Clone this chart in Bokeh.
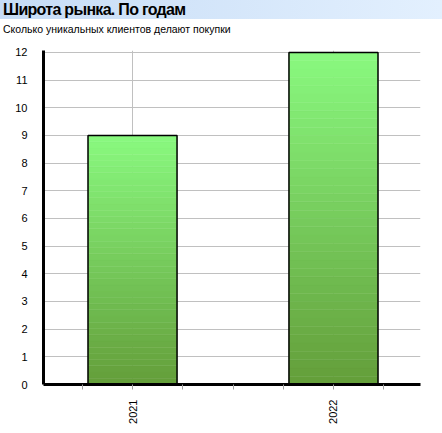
import numpy as np
from bokeh.plotting import figure
from bokeh.models import Range1d, FixedTicker, ColumnDataSource, Div
from bokeh.layouts import column
from bokeh.embed import file_html
from bokeh.resources import INLINE

title_text = "Широта рынка. По годам"
subtitle_text = "Сколько уникальных клиентов делают покупки"
years = [2021, 2022]
clients = [9, 12]
y_ticks = list(range(0, 13))

W, H = 442, 433
HEAD = 40
FL, FR, FT, FB = 43, 420, 50, 384  # frame edges in page pixels

header = Div(
    text=(
        '<div style="width:442px;box-sizing:border-box;height:19px;line-height:19px;padding-left:3px;'
        'background:linear-gradient(to right,#C6DCF6,#E3F0FE);'
        "font-family:'Liberation Sans';font-weight:bold;font-size:16px;letter-spacing:-0.7px;"
        'color:black;white-space:nowrap">' + title_text + '</div>'
        '<div style="width:442px;box-sizing:border-box;padding-left:3px;margin-top:3px;'
        "font-family:'Liberation Sans';font-size:10.5px;"
        'color:black;white-space:nowrap">' + subtitle_text + '</div>'
    ),
    width=W, height=HEAD, margin=(0, 0, 0, 0),
)

p = figure(frame_width=FR - FL, frame_height=FB - FT, output_backend="svg",
           toolbar_location=None,
           x_range=Range1d(2020.557, 2022.433), y_range=Range1d(0, 12.07),
           min_border_left=FL, min_border_right=W - FR, min_border_top=FT - HEAD,
           min_border_bottom=H - FB, title=None, margin=(0, 0, 0, 0))
p.outline_line_color = None
p.background_fill_color = "white"
p.border_fill_color = "white"

# gradient bars: slices of each bar
N = 40
c_bot = np.array([0x64, 0x9E, 0x3A])
c_top = np.array([0x8A, 0xFA, 0x80])
xs, bots, tops, cols = [], [], [], []
for yr, v in zip(years, clients):
    for i in range(N):
        t = (i + 0.5) / N
        c = (c_bot + (c_top - c_bot) * t).astype(int)
        xs.append(yr)
        bots.append(v * i / N)
        tops.append(v * (i + 1) / N)
        cols.append("#%02x%02x%02x" % tuple(c))
src = ColumnDataSource(dict(x=xs, bottom=bots, top=tops, color=cols))
bw = 0.443
p.vbar(x="x", bottom="bottom", top="top", width=bw, source=src,
       fill_color="color", line_color="color", line_width=0.5)
p.vbar(x=years, top=clients, width=bw, fill_color=None,
       line_color="black", line_width=1.5)

# x axis
minor = [y + k * 0.25 for y in [2020] + years for k in range(1, 4)]
p.xaxis.ticker = FixedTicker(ticks=years, minor_ticks=minor)
p.xaxis.major_label_orientation = np.pi / 2
p.xaxis.axis_line_width = 3
p.xaxis.axis_line_color = "black"
p.xaxis.major_tick_line_color = "#a0a0a0"
p.xaxis.minor_tick_line_color = "#a0a0a0"
p.xaxis.major_tick_in = 0
p.xaxis.major_tick_out = 5
p.xaxis.minor_tick_in = 0
p.xaxis.minor_tick_out = 5
p.xaxis.major_label_standoff = 10
p.xaxis.major_label_text_font = "Liberation Sans"
p.xaxis.major_label_text_font_size = "11px"
p.xaxis.major_label_text_color = "black"

# y axis
p.yaxis.ticker = FixedTicker(ticks=y_ticks, minor_ticks=[])
p.yaxis.axis_line_width = 3
p.yaxis.axis_line_color = "black"
p.yaxis.major_tick_line_color = None
p.yaxis.minor_tick_line_color = None
p.yaxis.major_label_standoff = 10
p.yaxis.major_label_text_font = "Liberation Sans"
p.yaxis.major_label_text_font_size = "11px"
p.yaxis.major_label_text_color = "black"

# grid
p.xgrid.ticker = FixedTicker(ticks=years)
p.ygrid.ticker = FixedTicker(ticks=y_ticks)
p.xgrid.grid_line_color = "#c0c0c0"
p.ygrid.grid_line_color = "#c0c0c0"

layout = column(header, p, spacing=0)
open("out.html", "w").write(file_html(layout, INLINE))
